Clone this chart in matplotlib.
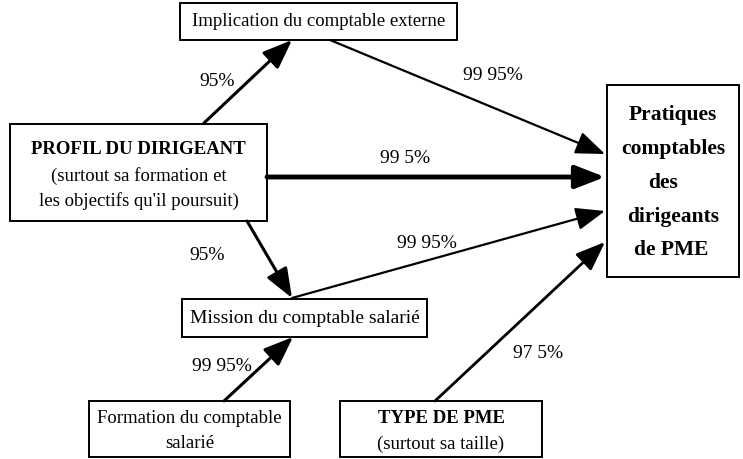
import matplotlib.pyplot as plt
from matplotlib.patches import Rectangle, FancyArrowPatch

# diagram content
box_names = ["implication", "profil", "pratiques", "mission", "formation", "type"]
box_texts = [
    ["Implication du comptable externe"],
    ["PROFIL DU DIRIGEANT", "(surtout sa formation et", "les objectifs qu'il poursuit)"],
    ["Pratiques", "comptables", "des", "dirigeants", "de PME"],
    ["Mission du comptable salarié"],
    ["Formation du comptable", "salarié"],
    ["TYPE DE PME", "(surtout sa taille)"],
]
link_labels = ["95%", "99 95%", "99 5%", "95%", "99 95%", "99 95%", "97 5%"]

plt.rcParams['font.family'] = ['Liberation Serif', 'DejaVu Serif']

fig = plt.figure(figsize=(7.43, 4.60), dpi=100)
ax = fig.add_axes([0, 0, 1, 1])
ax.set_xlim(0, 743)
ax.set_ylim(460, 0)
ax.axis('off')

# box layout: x0, y0, x1, y1 (pixels), line y positions, bold flags, font size
layout = {
    "implication": ((180, 4, 457, 41), [22], [False], 13.5),
    "profil": ((10, 125, 267, 222), [150, 176, 201], [True, False, False], 13.5),
    "pratiques": ((607, 86, 739, 278), [115, 149, 183, 217, 250], [True] * 5, 15.5),
    "mission": ((182, 300, 427, 338), [319], [False], 14),
    "formation": ((89, 402, 290, 458), [419, 444], [False, False], 13.5),
    "type": ((340, 402, 542, 458), [419, 444], [True, False], 13.5),
}
x_shift = {"pratiques": [0, 0, -10, 0, -2]}

for name, lines in zip(box_names, box_texts):
    (x0, y0, x1, y1), ys, bolds, fs = layout[name]
    ax.add_patch(Rectangle((x0, y0), x1 - x0, y1 - y0, fill=False,
                           edgecolor='black', linewidth=1.4))
    cx = (x0 + x1) / 2
    shifts = x_shift.get(name, [0] * len(lines))
    for txt, y, b, dx in zip(lines, ys, bolds, shifts):
        ax.text(cx + dx, y, txt, ha='center', va='center', fontsize=fs,
                fontweight='bold' if b else 'normal', color='black')

# arrows: start, end, line width, label position
arrows = [
    ((204, 124), (292, 41), 2.2, (217, 81)),
    ((330, 41), (605, 155), 1.6, (493, 76)),
    ((267, 178), (605, 178), 3.5, (405, 159)),
    ((247, 222), (292, 299), 2.2, (207, 255)),
    ((292, 299), (605, 212), 1.6, (427, 244)),
    ((224, 402), (293, 338), 2.2, (222, 367)),
    ((435, 402), (605, 243), 2.0, (538, 354)),
]
for (start, end, lw, lpos), lab in zip(arrows, link_labels):
    ax.add_patch(FancyArrowPatch(start, end,
                                 arrowstyle='-|>,head_length=18,head_width=7',
                                 mutation_scale=1, linewidth=lw, color='black',
                                 shrinkA=0, shrinkB=0))
    ax.text(lpos[0], lpos[1], lab, ha='center', va='center', fontsize=14)

fig.savefig('out.png', dpi=100)
